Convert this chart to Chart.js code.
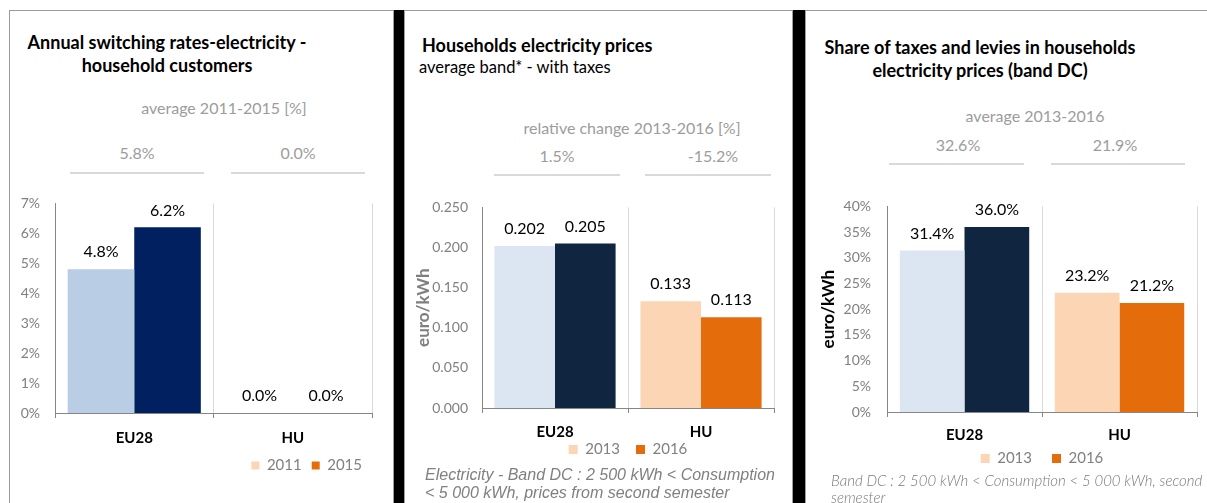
<!DOCTYPE html>
<html>
<head>
<meta charset="utf-8">
<script src="https://cdn.jsdelivr.net/npm/chart.js@4.4.1/dist/chart.umd.min.js"></script>
<style>
  body { margin: 0; width: 1207px; height: 503px; position: relative; overflow: hidden; background: #fff; font-family: Lato, sans-serif; }
  .abs { position: absolute; white-space: nowrap; }
  .frame { position: absolute; background: #9a9a9a; }
  .sep { position: absolute; top: 10px; height: 493px; background: #000; border-left: 1px solid #a0a0a0; border-right: 1px solid #a0a0a0; box-sizing: border-box; }
  .title { font-weight: bold; font-size: 18px; color: #000; }
  .subtitle { font-size: 16.5px; color: #000; }
  .head { font-size: 16px; color: #9c9c9c; }
  .num { font-size: 16px; color: #9c9c9c; }
  .rule { position: absolute; height: 2px; background: #d9d9d9; }
  .note { font-style: italic; color: #808080; font-size: 16px; font-family: 'Liberation Sans', Arial, sans-serif; }
  .note2 { font-style: italic; color: #7a7a7a; font-size: 15px; font-weight: 300; }
  canvas { position: absolute; }
</style>
</head>
<body>
<div class="frame" style="left:9px;top:10px;width:1198px;height:1px"></div>
<div class="frame" style="left:9px;top:10px;width:1px;height:493px"></div>
<div class="sep" style="left:393px;width:12px"></div>
<div class="sep" style="left:792px;width:14px"></div>

<canvas id="switching" width="385" height="323" style="left:10px;top:180px"></canvas>
<canvas id="prices" width="388" height="318" style="left:405px;top:185px"></canvas>
<canvas id="taxes" width="401" height="321" style="left:806px;top:182px"></canvas>

<script>
const categories = ['EU28', 'HU'];

// annual switching rates, %
const switchYears = ['2011', '2015'];
const switch2011 = [4.8, 0.0];
const switch2015 = [6.2, 0.0];
const switchAvg = ['5.8%', '0.0%'];

// household electricity prices, euro/kWh
const priceYears = ['2013', '2016'];
const price2013 = [0.202, 0.133];
const price2016 = [0.205, 0.113];
const priceChange = ['1.5%', '-15.2%'];

// share of taxes and levies, %
const taxYears = ['2013', '2016'];
const tax2013 = [31.4, 23.2];
const tax2016 = [36.0, 21.2];
const taxAvg = ['32.6%', '21.9%'];

const paleBlue = '#b9cde5', deepBlue = '#002060';
const lightBlue = '#dce6f2', navy = '#10253f';
const peach = '#fcd5b5', orange = '#e46c0a';

// text put on the page around the charts
function place(text, cls, x, y, anchor) {
  const d = document.createElement('div');
  d.className = 'abs ' + cls;
  d.textContent = text;
  d.style.left = x + 'px';
  d.style.top = y + 'px';
  d.style.transform = anchor === 'left' ? 'translateY(-50%)' : 'translate(-50%,-50%)';
  document.body.appendChild(d);
}
function rule(x1, x2, y) {
  const d = document.createElement('div');
  d.className = 'rule';
  d.style.left = x1 + 'px';
  d.style.width = (x2 - x1) + 'px';
  d.style.top = y + 'px';
  document.body.appendChild(d);
}

place('Annual switching rates-electricity -', 'title', 167, 42);
place('household customers', 'title', 167, 65);
place('average 2011-2015 [%]', 'head', 224, 107);
place(switchAvg[0], 'num', 137, 152);
place(switchAvg[1], 'num', 298, 152);
rule(70, 204, 172); rule(231, 365, 172);

place('Households electricity prices', 'title', 422, 45, 'left');
place('average band* - with taxes', 'subtitle', 419, 67, 'left');
place('relative change 2013-2016 [%]', 'head', 632, 127);
place(priceChange[0], 'num', 557, 155);
place(priceChange[1], 'num', 713, 155);
rule(494, 620, 174); rule(645, 771, 174);
place('Electricity - Band DC : 2 500 kWh < Consumption', 'note', 425, 475, 'left');
place('< 5 000 kWh, prices from second semester', 'note', 425, 493, 'left');

place('Share of taxes and levies in households', 'title', 980, 47);
place('electricity prices (band DC)', 'title', 980, 70);
place('average 2013-2016', 'head', 1035, 115);
place(taxAvg[0], 'num', 958, 144);
place(taxAvg[1], 'num', 1115, 144);
rule(889, 1024, 163); rule(1051, 1185, 163);
place('Band DC : 2 500 kWh < Consumption < 5 000 kWh, second', 'note2', 831, 480, 'left');
place('semester', 'note2', 831, 497, 'left');

// numbers above the bars
function valueLabels(fmt) {
  return {
    id: 'valueLabels',
    afterDatasetsDraw(chart) {
      const ctx = chart.ctx;
      ctx.save();
      ctx.font = '16px Lato';
      ctx.fillStyle = '#000';
      ctx.textAlign = 'center';
      ctx.textBaseline = 'middle';
      chart.data.datasets.forEach((ds, i) => {
        chart.getDatasetMeta(i).data.forEach((bar, j) => {
          ctx.fillText(fmt(ds.data[j]), bar.x, bar.y - 17);
        });
      });
      ctx.restore();
    }
  };
}

// pull the legend up under the category labels
function legendShift(up) {
  return {
    id: 'legendShift',
    afterLayout(chart) {
      chart.legend.top -= up;
      chart.legend.bottom -= up;
    }
  };
}

function barChart(id, o) {
  return new Chart(document.getElementById(id), {
    type: 'bar',
    data: {
      labels: categories,
      datasets: [
        { label: o.years[0], data: o.a, backgroundColor: o.colorsA, categoryPercentage: o.cat, barPercentage: 1 },
        { label: o.years[1], data: o.b, backgroundColor: o.colorsB, categoryPercentage: o.cat, barPercentage: 1 }
      ]
    },
    options: {
      responsive: false,
      animation: false,
      layout: { padding: o.pad },
      scales: {
        x: {
          grid: { color: '#d9d9d9', tickColor: '#868686', tickLength: 5, offset: true },
          border: { color: '#868686' },
          ticks: { color: '#000', font: { family: 'Lato', size: 15, weight: 'bold' }, padding: o.xPad },
          afterFit: s => { s.height = o.xH; }
        },
        y: {
          min: 0,
          max: o.max,
          grid: { display: false, drawTicks: false },
          border: { color: '#868686' },
          ticks: { stepSize: o.step, color: '#808080', font: { family: 'Lato', size: 14 }, padding: o.yPad, callback: o.tick },
          title: o.yTitle || { display: false },
          afterFit: s => { s.width = o.yW; }
        }
      },
      plugins: {
        legend: {
          position: 'bottom',
          align: o.align,
          fullSize: false,
          labels: {
            boxWidth: o.box,
            boxHeight: o.box,
            padding: o.legPad,
            font: { family: 'Lato', size: 15 },
            generateLabels: () => o.years.map((y, i) => ({
              text: y, fillStyle: i ? orange : peach, strokeStyle: i ? orange : peach,
              lineWidth: 0, fontColor: '#808080', hidden: false, datasetIndex: i
            }))
          }
        },
        tooltip: { enabled: false }
      }
    },
    plugins: [valueLabels(o.fmt), legendShift(o.legUp)]
  });
}

barChart('switching', {
  years: switchYears, a: switch2011, b: switch2015,
  colorsA: [paleBlue, peach], colorsB: [deepBlue, orange],
  cat: 0.84, max: 7, step: 1,
  tick: v => v + '%', fmt: v => v.toFixed(1) + '%',
  pad: { top: 0, right: 23, bottom: 20, left: 0 },
  xH: 35, xPad: 11, yW: 45, yPad: 15,
  align: 'end', box: 8, legPad: 10, legUp: 0
});

barChart('prices', {
  years: priceYears, a: price2013, b: price2016,
  colorsA: [lightBlue, peach], colorsB: [navy, orange],
  cat: 0.83, max: 0.25, step: 0.05,
  tick: v => v.toFixed(3), fmt: v => v.toFixed(3),
  pad: { top: 0, right: 19, bottom: 20, left: 0 },
  xH: 34, xPad: 10, yW: 77, yPad: 14,
  yTitle: { display: true, text: 'euro/kWh', color: '#7f7f7f', font: { family: 'Lato', size: 17, weight: 'bold' }, padding: { top: 8, bottom: 0 } },
  align: 'center', box: 9, legPad: 16, legUp: 16
});

barChart('taxes', {
  years: taxYears, a: tax2013, b: tax2016,
  colorsA: [lightBlue, peach], colorsB: [navy, orange],
  cat: 0.835, max: 40, step: 5,
  tick: v => v + '%', fmt: v => v.toFixed(1) + '%',
  pad: { top: 0, right: 10, bottom: 13, left: 0 },
  xH: 33, xPad: 9, yW: 81, yPad: 16,
  yTitle: { display: true, text: 'euro/kWh', color: '#000', font: { family: 'Lato', size: 17, weight: 'bold' }, padding: { top: 12, bottom: 0 } },
  align: 'center', box: 9, legPad: 20, legUp: 14
});
</script>
</body>
</html>
